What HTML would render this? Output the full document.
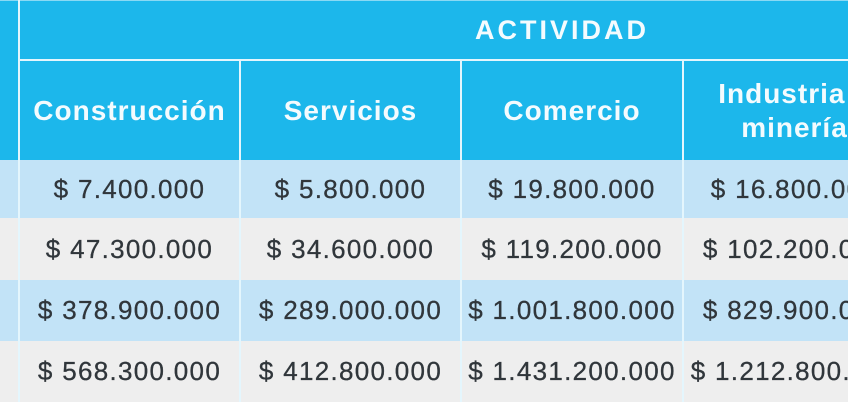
<!DOCTYPE html>
<html><head><meta charset="utf-8">
<style>
html,body{margin:0;padding:0;width:848px;height:402px;overflow:hidden;}
body{position:relative;background:#eeeeee;font-family:"Liberation Sans",Arial,sans-serif;}
#w{position:absolute;left:0;top:0;width:848px;height:402px;overflow:hidden;}
.a{position:absolute;}
.hd{background:#1cb7eb;}
.c{position:absolute;display:flex;align-items:center;justify-content:center;text-align:center;white-space:nowrap;}
.h{color:#f4fbfe;font-weight:bold;font-size:28px;letter-spacing:1px;line-height:34px;}
.d{color:#30363b;font-size:26px;letter-spacing:1.3px;-webkit-text-stroke:0.3px #30363b;}
.vl{position:absolute;width:2px;background:#e4f6fd;}
.blue{background:#c2e3f7;}
.gray{background:#eeeeee;}
</style></head><body>
<div id="w">
<div class="a hd" style="left:0;top:0;width:848px;height:160px;"></div>
<div class="a" style="left:0;top:0;width:848px;height:1px;background:#8ad9f4;"></div>
<div class="a blue" style="left:0;top:160px;width:848px;height:58px;"></div>
<div class="a gray" style="left:0;top:218px;width:848px;height:62px;"></div>
<div class="a blue" style="left:0;top:280px;width:848px;height:61px;"></div>
<div class="a gray" style="left:0;top:341px;width:848px;height:61px;"></div>

<div class="vl" style="left:18px;top:0;height:402px;"></div>
<div class="a" style="left:20px;top:59px;width:828px;height:2px;background:#e4f6fd;"></div>
<div class="vl" style="left:239px;top:61px;height:341px;"></div>
<div class="vl" style="left:460px;top:61px;height:341px;"></div>
<div class="vl" style="left:682px;top:61px;height:341px;"></div>

<div class="c h" style="left:20px;top:0;width:1084px;height:59px;font-size:27px;letter-spacing:3px;">ACTIVIDAD</div>

<div class="c h" style="left:20px;top:61px;width:219px;height:99px;">Construcción</div>
<div class="c h" style="left:241px;top:61px;width:219px;height:99px;">Servicios</div>
<div class="c h" style="left:462px;top:61px;width:220px;height:99px;">Comercio</div>
<div class="c h" style="left:684px;top:61px;width:221px;height:99px;white-space:normal;"><div>Industria y<br>minería</div></div>

<div class="c d" style="left:20px;top:160px;width:219px;height:58px;">$ 7.400.000</div>
<div class="c d" style="left:241px;top:160px;width:219px;height:58px;">$ 5.800.000</div>
<div class="c d" style="left:462px;top:160px;width:220px;height:58px;">$ 19.800.000</div>
<div class="c d" style="left:684px;top:160px;width:221px;height:58px;">$ 16.800.000</div>

<div class="c d" style="left:20px;top:218px;width:219px;height:62px;">$ 47.300.000</div>
<div class="c d" style="left:241px;top:218px;width:219px;height:62px;">$ 34.600.000</div>
<div class="c d" style="left:462px;top:218px;width:220px;height:62px;">$ 119.200.000</div>
<div class="c d" style="left:684px;top:218px;width:221px;height:62px;">$ 102.200.000</div>

<div class="c d" style="left:20px;top:280px;width:219px;height:61px;">$ 378.900.000</div>
<div class="c d" style="left:241px;top:280px;width:219px;height:61px;">$ 289.000.000</div>
<div class="c d" style="left:462px;top:280px;width:220px;height:61px;">$ 1.001.800.000</div>
<div class="c d" style="left:684px;top:280px;width:221px;height:61px;">$ 829.900.000</div>

<div class="c d" style="left:20px;top:341px;width:219px;height:61px;">$ 568.300.000</div>
<div class="c d" style="left:241px;top:341px;width:219px;height:61px;">$ 412.800.000</div>
<div class="c d" style="left:462px;top:341px;width:220px;height:61px;">$ 1.431.200.000</div>
<div class="c d" style="left:684px;top:341px;width:221px;height:61px;">$ 1.212.800.000</div>
</div>
</body></html>
